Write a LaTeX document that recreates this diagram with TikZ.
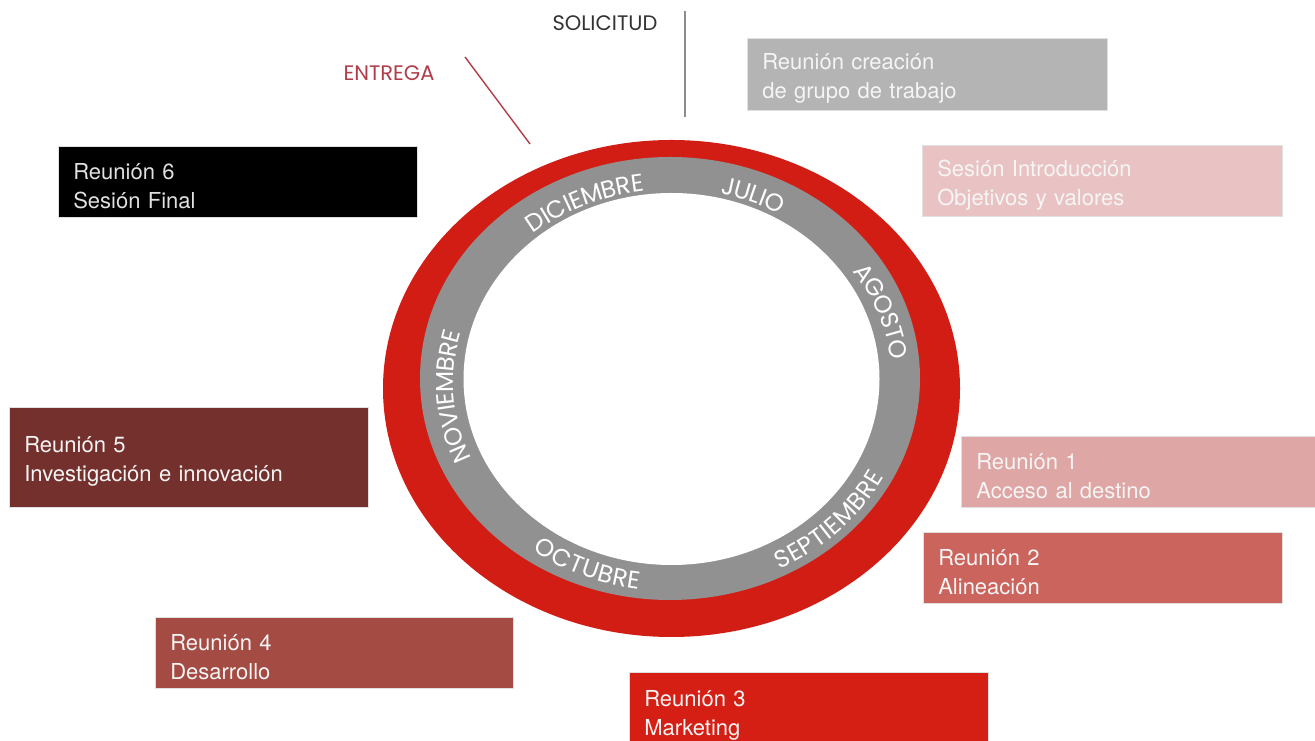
\documentclass[tikz,border=0pt]{standalone}
\usepackage{fontspec}
\setmainfont{TeX Gyre Heros}
\newfontfamily\popfont{Poppins}
\usetikzlibrary{decorations.text,calc}
\definecolor{ringred}{HTML}{D21D14}
\definecolor{ringgray}{HTML}{919191}
\definecolor{cGray}{HTML}{B4B4B4}
\definecolor{cIntro}{HTML}{E9C3C3}
\definecolor{cRsix}{HTML}{000000}
\definecolor{cRfive}{HTML}{74302D}
\definecolor{cRone}{HTML}{DEA6A4}
\definecolor{cRtwo}{HTML}{CA645D}
\definecolor{cRfour}{HTML}{A44B43}
\definecolor{cRthree}{HTML}{D51F14}
\definecolor{solcol}{HTML}{333333}
\definecolor{entcol}{HTML}{B13D4A}
\newcommand{\monthfnt}{\color{white}\popfont\fontsize{24.5}{24.5}\selectfont}
\tikzset{
  stagebox/.style={rectangle, anchor=north west, draw=black!12, line width=0.6pt,
    text=white!96!black, align=left, inner xsep=15pt, inner ysep=0pt,
    font=\fontsize{22}{29}\selectfont, execute at begin node={\rule{0pt}{25pt}}},
  toplabel/.style={font=\popfont\fontsize{21}{21}\selectfont},
  monthtext/.style={decorate, decoration={text along path, text align=center, raise=-8.5pt, text={|\monthfnt|#1}}}
}
\begin{document}
\begin{tikzpicture}[x=1pt,y=1pt]
\useasboundingbox (0,0) rectangle (1315,741);
\clip (0,0) rectangle (1315,741);
\fill[white] (0,0) rectangle (1315,741);

% ring
\fill[ringred] (671.5,352.5) ellipse [x radius=288.5, y radius=248.5];
\fill[ringgray] (670,362.5) ellipse [x radius=250, y radius=221.5];
\fill[white] (671.5,362) ellipse [x radius=208, y radius=186];
\coordinate (rc) at (673,359);

% months
\path[monthtext=JULIO] ($(rc)+(91:228 and 201)$) arc[start angle=91, end angle=47, x radius=228, y radius=201];
\path[monthtext=DICIEMBRE] ($(rc)+(147:228 and 201)$) arc[start angle=147, end angle=81, x radius=228, y radius=201];
\path[monthtext=AGOSTO] ($(rc)+(48:228 and 201)$) arc[start angle=48, end angle=-7, x radius=228, y radius=201];
\path[monthtext=NOVIEMBRE] ($(rc)+(222:228 and 201)$) arc[start angle=222, end angle=146, x radius=228, y radius=201];
\path[monthtext=SEPTIEMBRE] ($(rc)+(-80:228 and 201)$) arc[start angle=-80, end angle=-8, x radius=228, y radius=201];
\path[monthtext=OCTUBRE] ($(rc)+(-145:228 and 201)$) arc[start angle=-145, end angle=-81, x radius=228, y radius=201];

% top labels and lines
\node[toplabel, text=solcol] (sol) at (605,718) {SOLICITUD};
\node[toplabel, text=entcol] (ent) at (389,668) {ENTREGA};
\coordinate (solA) at (685,730);
\coordinate (solB) at (685,624);
\coordinate (entA) at (465,684);
\coordinate (entB) at (530,597);
\draw[color=black!45, line width=1.6pt] (solA) -- (solB);
\draw[color=entcol, line width=1.4pt] (entA) -- (entB);

% boxes
\node[stagebox, fill=cGray, minimum width=360, minimum height=72, text width=330] (crea) at (747,703) {Reunión creación\\de grupo de trabajo};
\node[stagebox, fill=cIntro, minimum width=360, minimum height=71, text width=330] (intro) at (922,596) {Sesión Introducción\\Objetivos y valores};
\node[stagebox, fill=cRsix, minimum width=359, minimum height=71, text width=329, text=white!88!black] (rsix) at (58,595) {Reunión 6\\Sesión Final};
\node[stagebox, fill=cRfive, minimum width=359, minimum height=100, text width=329] (rfive) at (9,334) {Reunión 5\\Investigación e innovación};
\node[stagebox, fill=cRone, minimum width=370, minimum height=71, text width=340] (rone) at (961,305) {Reunión 1\\Acceso al destino};
\node[stagebox, fill=cRtwo, minimum width=359, minimum height=71, text width=329] (rtwo) at (923,209) {Reunión 2\\Alineación};
\node[stagebox, fill=cRfour, minimum width=358, minimum height=71, text width=328] (rfour) at (155,124) {Reunión 4\\Desarrollo};
\node[stagebox, fill=cRthree, minimum width=359, minimum height=78, text width=329] (rthree) at (629,69) {Reunión 3\\Marketing};
\end{tikzpicture}
\end{document}
